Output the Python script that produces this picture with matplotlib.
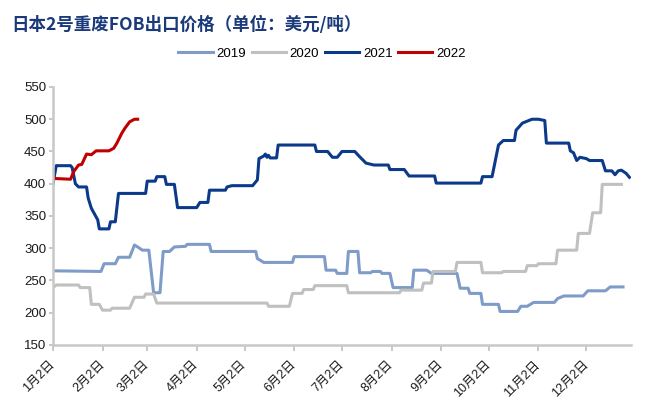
import pandas as pd
import numpy as np
import matplotlib
matplotlib.use("Agg")
import matplotlib.pyplot as plt

plt.rcParams['font.family'] = ['Liberation Sans', 'Noto Sans CJK SC', 'DejaVu Sans']

# days counted from 1月2日
days_2019 = [0, 30, 32, 39, 41, 48, 51, 53, 56, 60, 63, 67, 69, 73, 76, 83, 84, 98, 99, 127,
             128, 132, 150, 151, 170, 171, 177, 178, 184, 185, 191, 192, 199, 200, 205, 206, 211, 213, 225, 226,
             234, 237, 253, 255, 260, 261, 268, 269, 279, 280, 291, 293, 297, 301, 314, 316, 320, 332, 335, 346,
             349, 357]
vals_2019 = [265, 264, 276, 276, 286, 286, 305, 302, 297, 297, 231, 231, 295, 295, 302, 303, 306, 306, 295, 295,
             284, 278, 278, 287, 287, 266, 266, 261, 261, 295, 295, 262, 262, 264, 264, 261, 261, 239, 239, 266,
             266, 261, 261, 238, 238, 230, 230, 213, 213, 202, 202, 210, 210, 216, 216, 222, 226, 226, 234, 234,
             240, 240]

days_2020 = [0, 2, 16, 17, 23, 24, 29, 31, 36, 37, 48, 51, 57, 58, 63, 65, 134, 135, 148, 150,
             156, 157, 163, 164, 184, 185, 217, 218, 231, 232, 237, 238, 252, 253, 268, 269, 281, 282, 296, 297,
             303, 304, 315, 316, 328, 329, 336, 338, 343, 344, 356]
vals_2020 = [239, 243, 243, 239, 239, 213, 213, 204, 204, 207, 207, 224, 224, 229, 229, 215, 215, 210, 210, 230,
             230, 236, 236, 242, 242, 231, 231, 235, 235, 246, 246, 264, 264, 278, 278, 262, 262, 264, 264, 273,
             273, 276, 276, 297, 297, 323, 323, 355, 355, 399, 399]

days_2021 = [0, 2, 11, 12, 14, 16, 21, 22, 24, 26, 28, 29, 35, 36, 39, 41, 58, 59, 64, 65,
             70, 71, 76, 78, 90, 92, 97, 98, 108, 109, 112, 125, 128, 129, 132, 133, 134, 135, 136, 140,
             141, 164, 165, 172, 175, 178, 181, 189, 192, 196, 201, 210, 211, 220, 223, 239, 240, 268, 269, 275,
             279, 282, 289, 290, 294, 296, 300, 304, 308, 309, 323, 324, 326, 328, 330, 334, 336, 344, 346, 350,
             352, 354, 356, 359, 361]
vals_2021 = [400, 428, 428, 425, 400, 395, 395, 378, 362, 353, 344, 330, 330, 341, 341, 385, 385, 404, 404, 411,
             411, 399, 399, 363, 363, 371, 371, 390, 390, 395, 397, 397, 406, 439, 443, 446, 441, 444, 440, 440,
             460, 460, 450, 450, 441, 441, 450, 450, 442, 432, 429, 429, 422, 422, 412, 412, 401, 401, 411, 411,
             460, 467, 467, 483, 494, 496, 500, 500, 498, 463, 463, 451, 448, 436, 441, 439, 436, 436, 420, 420,
             414, 420, 421, 416, 410]

days_2022 = [0, 2, 11, 13, 16, 18, 21, 24, 27, 35, 38, 40, 43, 45, 48, 51, 53]
vals_2022 = [410, 408, 407, 419, 429, 430, 446, 445, 451, 451, 455, 463, 478, 486, 496, 500, 500]

month_labels = ['1月2日', '2月2日', '3月2日', '4月2日', '5月2日', '6月2日',
                '7月2日', '8月2日', '9月2日', '10月2日', '11月2日', '12月2日']

title = '日本2号重废FOB出口价格（单位：美元/吨）'

start = pd.Timestamp(2021, 1, 2)
tick_pos = [(pd.Timestamp(2021, m, 2) - start).days for m in range(1, 13)]

fig = plt.figure(figsize=(6.53, 4.15), dpi=100)
ax = fig.add_axes([0.0812, 0.1687, 0.8851, 0.6217])

ax.plot(days_2019, vals_2019, color='#7F9CC8', lw=2.2, label='2019')
ax.plot(days_2020, vals_2020, color='#C0C0C0', lw=2.2, label='2020')
ax.plot(days_2021, vals_2021, color='#0B3A8A', lw=2.2, label='2021')
ax.plot(days_2022, vals_2022, color='#C00000', lw=2.2, label='2022')

ax.set_xlim(0, 362)
ax.set_ylim(150, 550)
ax.set_yticks(np.arange(150, 551, 50))
ax.set_xticks(tick_pos)
ax.set_xticklabels(month_labels, rotation=45, ha='right', va='center',
                   rotation_mode='anchor', fontsize=9, color='#1a1a1a')
ax.tick_params(axis='y', labelsize=9.5, labelcolor='#1a1a1a', color='#BFBFBF',
               length=3, width=1.2, pad=2)
ax.tick_params(axis='x', color='#BFBFBF', length=4, width=1.2, pad=9)

for s in ['top', 'right']:
    ax.spines[s].set_visible(False)
for s in ['left', 'bottom']:
    ax.spines[s].set_color('#C8C8C8')
    ax.spines[s].set_linewidth(1.8)

fig.legend(loc='center', bbox_to_anchor=(0.493, 0.8706), ncol=4, frameon=False,
           fontsize=9.5, handlelength=2.6, handletextpad=0.3, columnspacing=0.4)

fig.text(0.018, 0.94, title, fontsize=12.6, fontweight='bold', color='#1B3A7A',
         family=['Noto Sans CJK SC', 'DejaVu Sans'], ha='left', va='center')

fig.savefig('out.png', dpi=100)
